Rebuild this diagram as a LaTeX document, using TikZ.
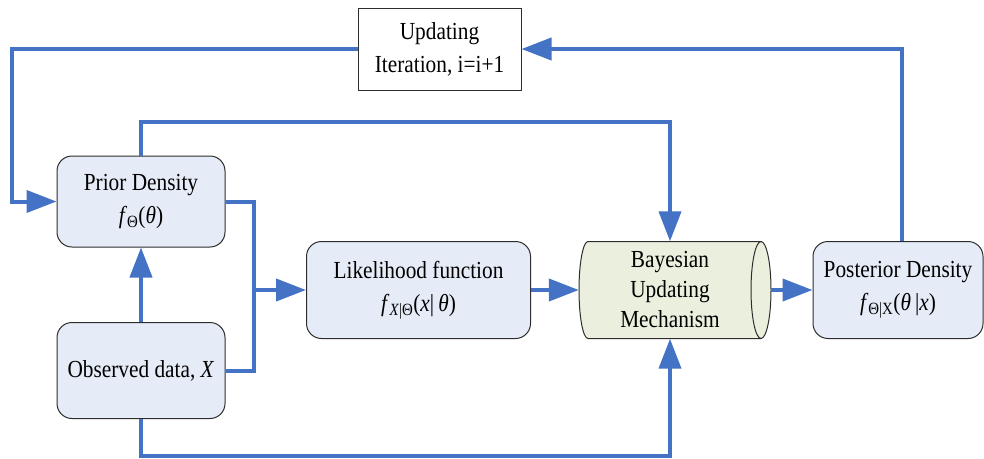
\documentclass[tikz,border=0pt]{standalone}
\usepackage{fontspec}
\setmainfont[FakeStretch=0.87]{Liberation Serif}
\usetikzlibrary{arrows.meta}
\definecolor{flowblue}{RGB}{68,114,196}
\definecolor{boxfill}{RGB}{230,236,247}
\definecolor{cylfill}{RGB}{235,240,222}
\definecolor{edgegray}{RGB}{45,45,45}
\begin{document}
\begin{tikzpicture}[x=1pt,y=1pt,
  font=\fontsize{24.5}{33}\selectfont,
  block/.style={draw=edgegray, line width=1pt, fill=boxfill, rounded corners=15pt,
    align=center, inner sep=0pt},
  plainbox/.style={draw=edgegray, line width=1pt, fill=white, align=center, inner sep=0pt},
  flow/.style={draw=flowblue, line width=4pt, -{Triangle[length=30pt,width=22pt]}},
  link/.style={draw=flowblue, line width=4pt}]

\useasboundingbox (0,0) rectangle (984,-458);

% process boxes
\node[plainbox, minimum width=163pt, minimum height=82pt] (upd) at (439.5,-49)
  {Updating\\Iteration, i=i+1};
\node[block, minimum width=168pt, minimum height=91pt] (prior) at (141,-201.5)
  {Prior Density\\\textit{f}\textsubscript{Θ}(\textit{θ})};
\node[block, minimum width=168pt, minimum height=96pt] (obs) at (141,-370.5)
  {Observed data, \textit{X}};
\node[block, minimum width=224pt, minimum height=97pt] (lik) at (418.5,-290)
  {Likelihood function\\\textit{f}\textsubscript{\textit{X}|Θ}(\textit{x}|\,\textit{θ})};
\node[block, minimum width=170pt, minimum height=97pt] (post) at (898,-290)
  {Posterior Density\\\textit{f}\textsubscript{Θ|X}(\textit{θ}\,|\textit{x})};

% horizontal cylinder for the updating mechanism
\fill[cylfill] (588,-241.5) -- (761,-241.5)
  arc[start angle=90, end angle=-90, x radius=10, y radius=48.5]
  -- (588,-338.5) arc[start angle=270, end angle=90, x radius=9, y radius=48.5] -- cycle;
\draw[edgegray, line width=1pt] (761,-241.5) -- (588,-241.5)
  arc[start angle=90, end angle=270, x radius=9, y radius=48.5] -- (761,-338.5);
\draw[edgegray, line width=1pt] (761,-290) ellipse[x radius=10, y radius=48.5];
\node[minimum width=192pt, minimum height=97pt, inner sep=0pt, align=center,
  font=\fontsize{24.5}{30}\selectfont] (bay)
  at (675,-290) {\hspace*{-10pt}Bayesian\\\hspace*{-10pt}Updating\\\hspace*{-10pt}Mechanism};

% connectors
\draw[flow] (upd.west) -| ([xshift=-45pt]prior.west) |- (prior.west);
\draw[flow] ([xshift=4pt]post.north) |- (upd.east);
\draw[flow] (prior.north) -- ([yshift=34pt]prior.north) -| ([xshift=-5pt]bay.north);
\draw[flow] (obs.south) -- ([yshift=-37pt]obs.south) -| ([xshift=-5pt]bay.south);
\draw[flow] (obs.north) -- (prior.south);
\coordinate (join) at ([xshift=-52.5pt]lik.west);
\draw[link] (prior.east) -| (join |- obs.east) -- (obs.east);
\draw[flow] (join) -- (lik.west);
\draw[flow] (lik.east) -- (bay.west);
\draw[flow] (bay.east) -- (post.west);
\end{tikzpicture}
\end{document}
